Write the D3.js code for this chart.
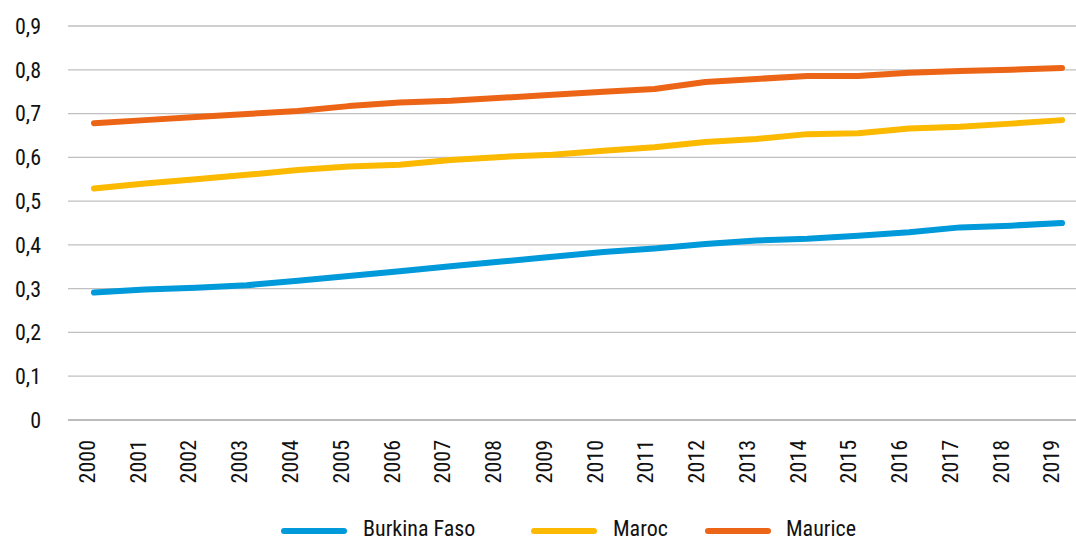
<!DOCTYPE html>
<html>
<head>
<meta charset="utf-8">
<script src="https://cdn.jsdelivr.net/npm/d3@7"></script>
<style>
  html, body { margin: 0; padding: 0; background: #fff; }
  svg { display: block; }
  text { font-family: "Liberation Sans Narrow", "Roboto Condensed", "Arial Narrow", "Liberation Sans", sans-serif; fill: #111; }
</style>
</head>
<body>
<svg id="chart" width="1076" height="539"></svg>
<script>
// Years on the x axis
const years = ["2000","2001","2002","2003","2004","2005","2006","2007","2008","2009",
               "2010","2011","2012","2013","2014","2015","2016","2017","2018","2019"];

// Series values, one per year
const burkinaFaso = [0.291, 0.298, 0.302, 0.308, 0.318, 0.329, 0.340, 0.351, 0.362, 0.373,
                     0.384, 0.392, 0.402, 0.410, 0.414, 0.421, 0.429, 0.440, 0.444, 0.450];
const maroc       = [0.529, 0.540, 0.550, 0.560, 0.571, 0.579, 0.583, 0.594, 0.601, 0.606,
                     0.615, 0.623, 0.635, 0.642, 0.653, 0.655, 0.666, 0.670, 0.677, 0.685];
const maurice     = [0.678, 0.685, 0.692, 0.699, 0.706, 0.717, 0.725, 0.729, 0.736, 0.743,
                     0.750, 0.756, 0.772, 0.779, 0.786, 0.786, 0.793, 0.797, 0.800, 0.804];

const seriesNames  = ["Burkina Faso", "Maroc", "Maurice"];
const seriesColors = ["#0099d9", "#fbb900", "#ec6415"];
const yTicks = [0, 0.1, 0.2, 0.3, 0.4, 0.5, 0.6, 0.7, 0.8, 0.9];

const seriesData = [burkinaFaso, maroc, maurice];

const svg = d3.select("#chart");
const plot = { left: 68, right: 1090, top: 26, bottom: 420 };
const fontSize = 22;

// Point positions for the lines and for the category labels
const x = d3.scalePoint().domain(years).range([94, 1062]);
const xLabel = d3.scalePoint().domain(years).range([87, 1051.5]);
const y = d3.scaleLinear().domain([0, 0.9]).range([plot.bottom, plot.top]);
const fmt = d => d3.format(".1~f")(d).replace(".", ",");

// Horizontal grid lines
svg.append("g")
  .selectAll("line")
  .data(yTicks)
  .join("line")
  .attr("x1", plot.left)
  .attr("x2", plot.right)
  .attr("y1", d => y(d))
  .attr("y2", d => y(d))
  .attr("stroke", d => d === 0 ? "#a6a6a6" : "#c0c0c0")
  .attr("stroke-width", 1.3);

// Y axis labels
svg.append("g")
  .selectAll("text")
  .data(yTicks)
  .join("text")
  .attr("x", 41)
  .attr("y", d => y(d))
  .attr("dy", "0.36em")
  .attr("text-anchor", "end")
  .attr("font-size", fontSize)
  .text(fmt);

// X axis labels, rotated
svg.append("g")
  .selectAll("text")
  .data(years)
  .join("text")
  .attr("transform", d => `translate(${xLabel(d)},440) rotate(-90)`)
  .attr("dy", "0.36em")
  .attr("text-anchor", "end")
  .attr("font-size", fontSize)
  .text(d => d);

// Series lines
const line = d3.line()
  .x((d, i) => x(years[i]))
  .y(d => y(d));

svg.append("g")
  .selectAll("path")
  .data(seriesData)
  .join("path")
  .attr("d", line)
  .attr("fill", "none")
  .attr("stroke", (d, i) => seriesColors[i])
  .attr("stroke-width", 6)
  .attr("stroke-linecap", "round")
  .attr("stroke-linejoin", "round");

// Legend
const legendX = [284, 534, 708];
const legend = svg.append("g")
  .selectAll("g")
  .data(seriesNames)
  .join("g")
  .attr("transform", (d, i) => `translate(${legendX[i]},531)`);

legend.append("line")
  .attr("x1", 0).attr("x2", 60)
  .attr("y1", 0).attr("y2", 0)
  .attr("stroke", (d, i) => seriesColors[i])
  .attr("stroke-width", 6)
  .attr("stroke-linecap", "round");

legend.append("text")
  .attr("x", (d, i) => [79, 79, 78][i])
  .attr("y", 5)
  .attr("font-size", fontSize)
  .text(d => d);
</script>
</body>
</html>
